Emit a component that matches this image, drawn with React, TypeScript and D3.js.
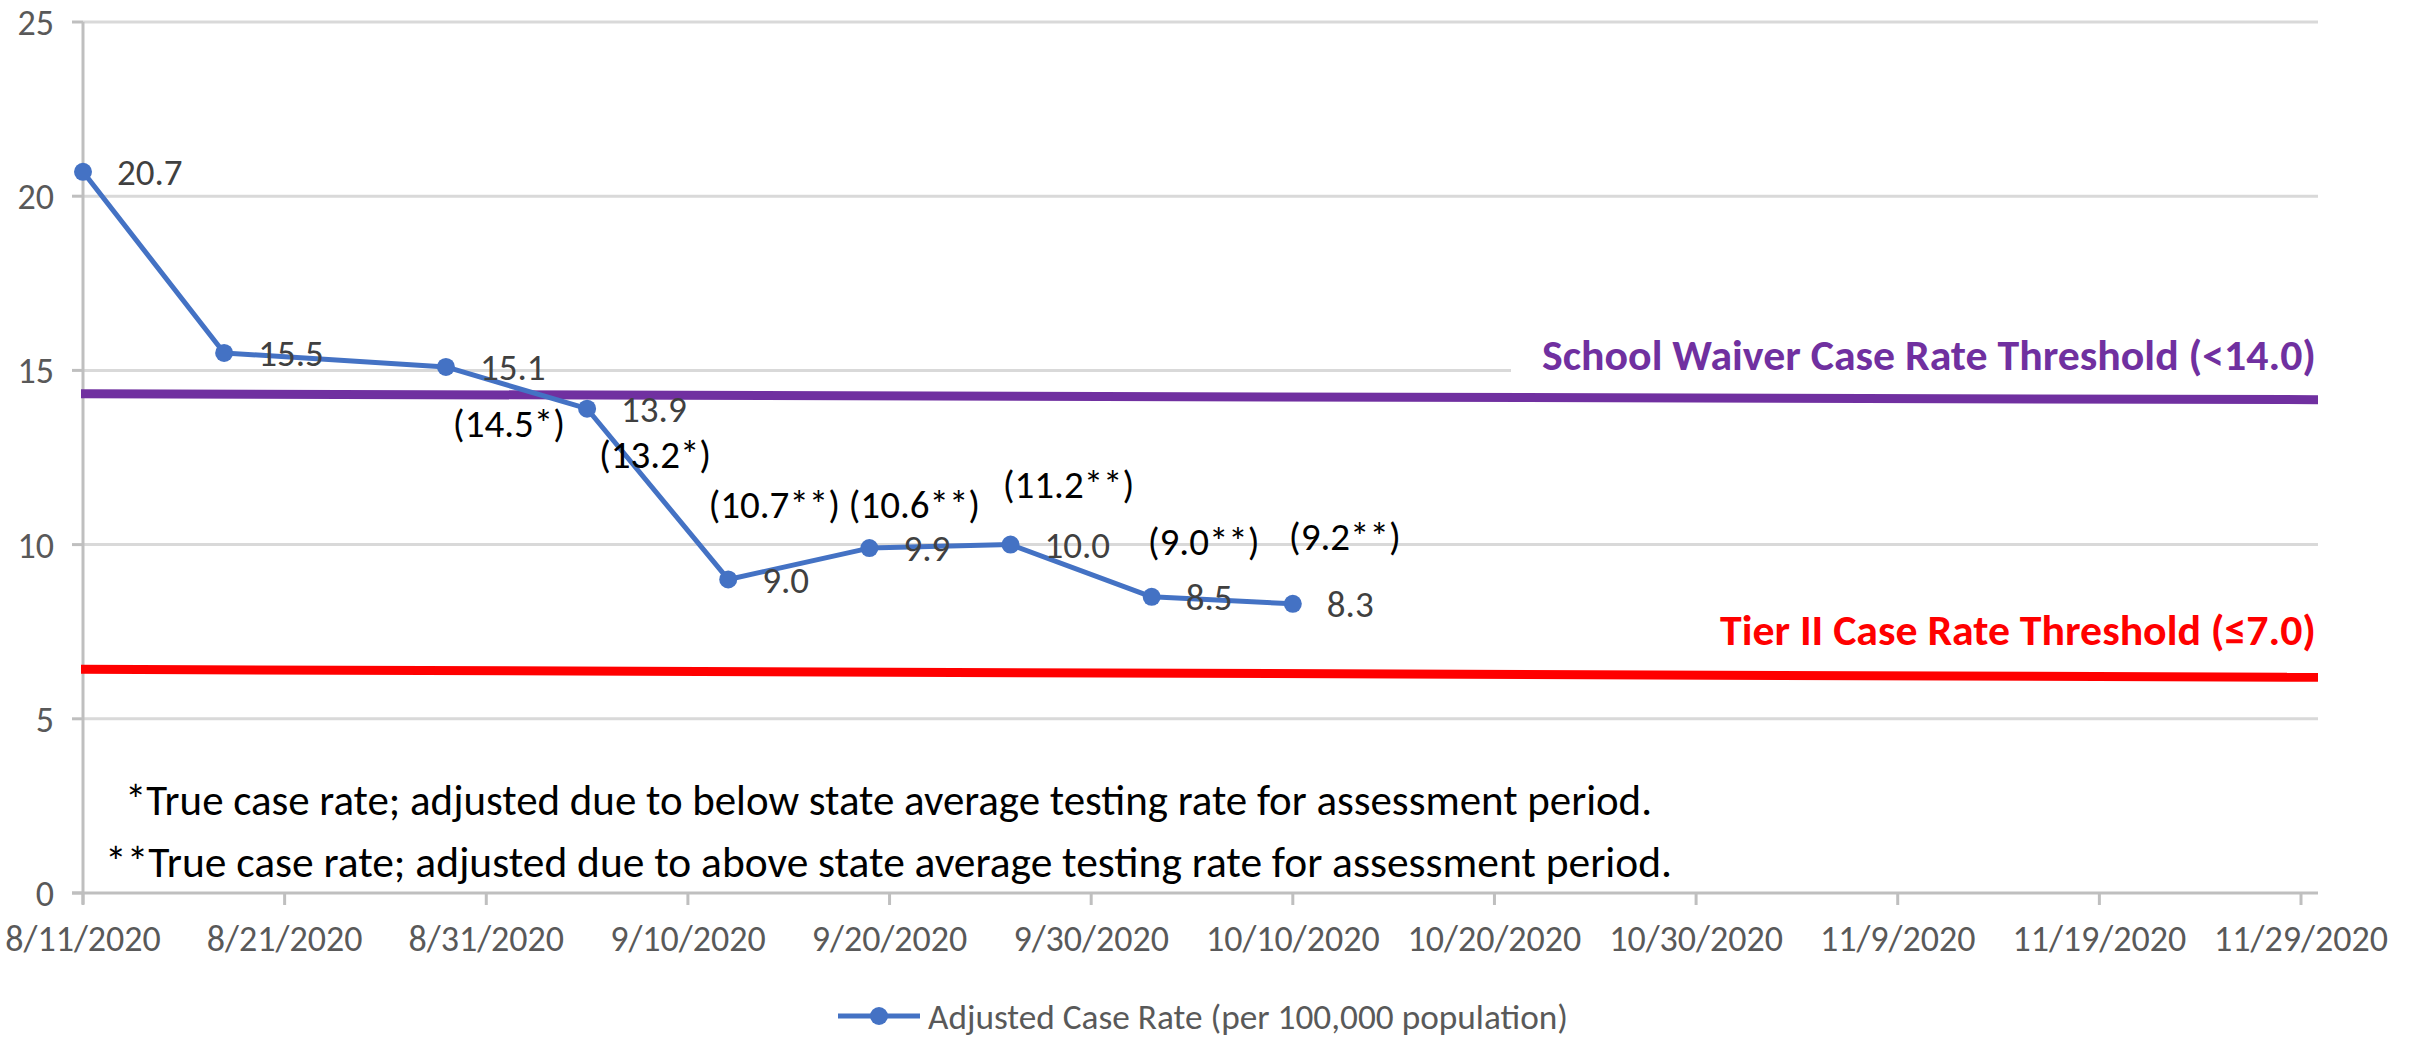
import React from "react";
import * as d3 from "d3";

const pointDates = ["2020-08-11", "2020-08-18", "2020-08-29", "2020-09-05", "2020-09-12", "2020-09-19", "2020-09-26", "2020-10-03", "2020-10-10"];
const adjustedRates = [20.7, 15.5, 15.1, 13.9, 9.0, 9.9, 10.0, 8.5, 8.3];
const trueRateLabels = ["", "", "(14.5*)", "(13.2*)", "(10.7**)", "(10.6**)", "(11.2**)", "(9.0**)", "(9.2**)"];
// layout offsets for the annotation text boxes (px from the point)
const trueRateDx = [0, 0, 63, 68, 46, 45, 58, 52, 52];
const trueRateDy = [0, 0, 70, 59, -61, -30, -47, -42, -54];

const yTicks = [0, 5, 10, 15, 20, 25];
const xTickDates = ["2020-08-11", "2020-08-21", "2020-08-31", "2020-09-10", "2020-09-20", "2020-09-30", "2020-10-10", "2020-10-20", "2020-10-30", "2020-11-09", "2020-11-19", "2020-11-29"];

// threshold lines as drawn (slightly sloped in the original)
const waiverLine = { start: 14.33, end: 14.16, label: "School Waiver Case Rate Threshold (<14.0)" };
const tierLine = { start: 6.42, end: 6.19, label: "Tier II Case Rate Threshold (\u22647.0)" };

const footnotes = [
  "*True case rate; adjusted due to below state average testing rate for assessment period.",
  "**True case rate; adjusted due to above state average testing rate for assessment period.",
];
const legendLabel = "Adjusted Case Rate (per 100,000 population)";

const parse = (s: string) => {
  const [y, m, d] = s.split("-").map(Number);
  return new Date(Date.UTC(y, m - 1, d));
};
const fmt = (d: Date) => `${d.getUTCMonth() + 1}/${d.getUTCDate()}/${d.getUTCFullYear()}`;

const FONT = "Carlito, Calibri, Lato, sans-serif";

export default function App() {
  const W = 2410, H = 1038;
  const left = 83, right = 2318, plotRightDate = 2301;
  const x = d3.scaleUtc().domain([parse("2020-08-11"), parse("2020-11-29")]).range([left, plotRightDate]);
  const y = d3.scaleLinear().domain([0, 25]).range([893, 22]);

  const pts = pointDates.map((d, i) => ({ x: x(parse(d)), y: y(adjustedRates[i]), v: adjustedRates[i], i }));
  const line = d3.line<{ x: number; y: number }>().x((d) => d.x).y((d) => d.y);

  const grid = "#d9d9d9";
  const axisC = "#bfbfbf";
  const blue = "#4472C4";

  return (
    <svg width={W} height={H} style={{ position: "absolute", left: 0, top: 0, background: "#fff" }} fontFamily={FONT}>
      <rect width={W} height={H} fill="#fff" />
      {yTicks.filter((t) => t > 0).map((t) => (
        <line key={t} x1={left} x2={right} y1={y(t)} y2={y(t)} stroke={grid} strokeWidth={3} />
      ))}
      {yTicks.map((t) => (
        <line key={"yt" + t} x1={left - 11} x2={left} y1={y(t)} y2={y(t)} stroke={axisC} strokeWidth={3} />
      ))}
      <line x1={left} x2={left} y1={y(25)} y2={y(0) + 11} stroke={axisC} strokeWidth={3} />
      <line x1={left - 11} x2={right} y1={y(0)} y2={y(0)} stroke={axisC} strokeWidth={3} />
      {xTickDates.map((d) => (
        <line key={"xt" + d} x1={x(parse(d))} x2={x(parse(d))} y1={y(0)} y2={y(0) + 12} stroke={axisC} strokeWidth={3} />
      ))}
      {yTicks.map((t) => (
        <text key={"yl" + t} x={54} y={y(t)} dy="0.36em" textAnchor="end" fontSize={36} fill="#595959">{t}</text>
      ))}
      {xTickDates.map((d) => (
        <text key={"xl" + d} x={x(parse(d))} y={951} textAnchor="middle" fontSize={36} fill="#595959">{fmt(parse(d))}</text>
      ))}

      <rect x={1511} y={335} width={809} height={50} fill="#fff" />
      <text x={2316} y={370} textAnchor="end" fontSize={43} fontWeight="bold" fill="#7030A0" textLength={774} lengthAdjust="spacingAndGlyphs">{waiverLine.label}</text>
      <text x={2316} y={645} textAnchor="end" fontSize={43} fontWeight="bold" fill="#FF0000" textLength={596} lengthAdjust="spacingAndGlyphs">{tierLine.label}</text>

      <line x1={81} x2={right} y1={y(waiverLine.start)} y2={y(waiverLine.end)} stroke="#7030A0" strokeWidth={9} />
      <line x1={81} x2={right} y1={y(tierLine.start)} y2={y(tierLine.end)} stroke="#FF0000" strokeWidth={9} />

      <path d={line(pts) || ""} fill="none" stroke={blue} strokeWidth={5} strokeLinejoin="round" />
      {pts.map((p) => (
        <circle key={"c" + p.i} cx={p.x} cy={p.y} r={9} fill={blue} />
      ))}
      {pts.map((p) => (
        <text key={"dl" + p.i} x={p.x + 34} y={p.y} dy="0.36em" fontSize={37} fill="#404040">{p.v.toFixed(1)}</text>
      ))}
      {pts.map((p) =>
        trueRateLabels[p.i] ? (
          <text key={"tr" + p.i} x={p.x + trueRateDx[p.i]} y={p.y + trueRateDy[p.i]} textAnchor="middle" fontSize={39} fill="#000">{trueRateLabels[p.i]}</text>
        ) : null
      )}

      <text x={125} y={815} fontSize={43} fill="#000" textLength={1527} lengthAdjust="spacingAndGlyphs">{footnotes[0]}</text>
      <text x={105} y={877} fontSize={43} fill="#000" textLength={1567} lengthAdjust="spacingAndGlyphs">{footnotes[1]}</text>

      <line x1={838} x2={920} y1={1016} y2={1016} stroke={blue} strokeWidth={5} />
      <circle cx={879} cy={1016} r={9} fill={blue} />
      <text x={928} y={1016} dy="0.36em" fontSize={35} fill="#595959" textLength={640} lengthAdjust="spacingAndGlyphs">{legendLabel}</text>
    </svg>
  );
}
